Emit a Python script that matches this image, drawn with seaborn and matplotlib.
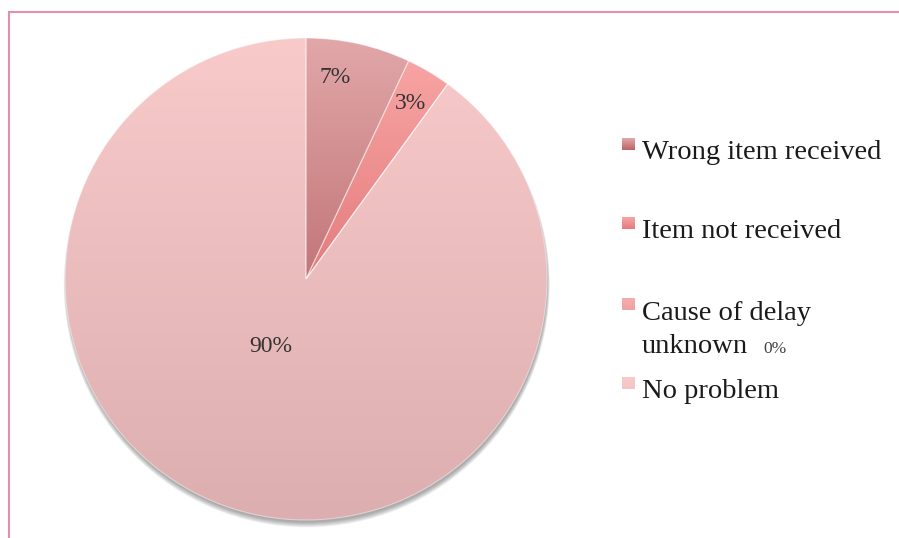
import numpy as np
import matplotlib
matplotlib.use("Agg")
import matplotlib.pyplot as plt
import seaborn as sns
from matplotlib.patches import Rectangle, Circle

# data
categories = ["Wrong item received", "Item not received", "Cause of delay\nunknown", "No problem"]
shares = [7, 3, 0, 90]

# gradient colours (top -> bottom) for each slice
top_colors = ["#e2a7a9", "#f8a4a4", "#f6acac", "#f9caca"]
bottom_colors = ["#c27678", "#e47c7d", "#d88f90", "#ddaeaf"]
marker_colors = ["#bd6466", "#e47c7e", "#f0a2a3", "#f3c4c5"]

sns.set_theme(style="white")
plt.rcParams["font.family"] = ["Liberation Serif", "DejaVu Serif"]

W, H = 899, 538
fig = plt.figure(figsize=(W / 100, H / 100), dpi=100)


def fx(x):
    return x / W


def fy(y):
    return 1 - y / H


# pink frame round the chart area
fig.patches.append(Rectangle((fx(9), -0.2), 1.2, fy(12) + 0.2, transform=fig.transFigure,
                             fill=False, edgecolor="#e38fae", linewidth=1.5))

cx, cy, r = 306, 279, 241
ax = fig.add_axes([fx(cx - r), (H - cy - r) / H, 2 * r / W, 2 * r / H])

# soft shadow under the pie
for k in range(6):
    ax.add_patch(Circle((0.003, -0.012 - 0.002 * k), 0.998 + 0.002 * k, color="#444444",
                        alpha=0.09, zorder=0, lw=0, clip_on=False))

wedges, _ = ax.pie(shares, startangle=90, counterclock=False, radius=1,
                   wedgeprops=dict(linewidth=0.8, edgecolor=(1, 1, 1, 0.45)))

grad = np.linspace(0, 1, 256).reshape(-1, 1)
for w, val, c0, c1 in zip(wedges, shares, top_colors, bottom_colors):
    w.set_facecolor("none")
    w.set_zorder(3)
    if val == 0:
        continue
    bb = w.get_path().get_extents()
    cmap = sns.blend_palette([c0, c1], n_colors=256, as_cmap=True)
    im = ax.imshow(grad, cmap=cmap, extent=[bb.x0, bb.x1, bb.y0, bb.y1],
                   aspect="auto", zorder=2, interpolation="bilinear")
    im.set_clip_path(w)

ax.set_aspect("equal")
ax.set_xlim(-1, 1)
ax.set_ylim(-1, 1)
ax.axis("off")

# percent labels
label_pos = [(335, 83), (411, 109), (775, 353), (271, 352)]
for val, (lx, ly) in zip(shares, label_pos):
    if val == 0:
        fig.text(fx(lx), fy(ly), f"{val}%", ha="center", va="baseline", fontsize=12.5, color="#444444")
    else:
        fig.text(fx(lx), fy(ly), f"{val}%", ha="center", va="baseline", fontsize=17, color="#333333")

# legend
marker_top = [138, 217, 298, 377]
text_base = [159, 238, 320, 398]
line_gap = 33
for name, col, c0, mt, tb in zip(categories, marker_colors, top_colors, marker_top, text_base):
    cmap = sns.blend_palette([c0, col], n_colors=64, as_cmap=True)
    lax = fig.add_axes([fx(622), fy(mt + 12), 13 / W, 12 / H])
    lax.imshow(np.linspace(0, 1, 32).reshape(-1, 1), cmap=cmap, aspect="auto")
    lax.axis("off")
    for i, line in enumerate(name.split("\n")):
        fig.text(fx(642), fy(tb + i * line_gap), line, ha="left", va="baseline",
                 fontsize=20.5, color="#1a1a1a")

fig.savefig("out.png", dpi=100)
